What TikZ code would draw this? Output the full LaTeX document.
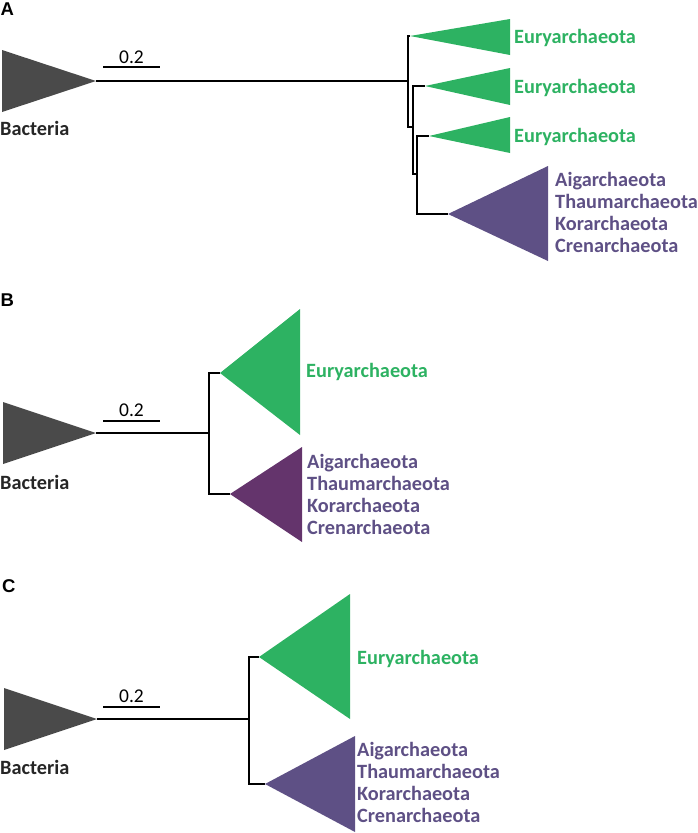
\documentclass[tikz,border=0pt]{standalone}
\usepackage{fontspec}
\setmainfont{Carlito}
\newfontfamily\panelfont{Liberation Sans}
\usepackage{tikz}
\definecolor{bactgray}{HTML}{4A4A4A}
\definecolor{eurygreen}{HTML}{2DB262}
\definecolor{crenpurple}{HTML}{5E5085}
\definecolor{crenplum}{HTML}{64346C}
\tikzstyle{branch}=[line width=1.5pt,draw=black]
\tikzstyle{bact}=[fill=bactgray]
\tikzstyle{eury}=[fill=eurygreen]
\tikzstyle{crena}=[fill=crenpurple]
\tikzstyle{crenb}=[fill=crenplum]
\tikzstyle{panel}=[anchor=base west,inner sep=0pt,
font=\panelfont\bfseries\fontsize{18.5}{22}\selectfont]
\tikzstyle{taxon}=[anchor=base west,inner sep=0pt,
font=\bfseries\fontsize{20.3}{24}\selectfont]
\tikzstyle{bacttext}=[taxon,text=black!85]
\tikzstyle{eurytext}=[taxon,text=eurygreen]
\tikzstyle{crentext}=[taxon,text=crenpurple]
\tikzstyle{scalelbl}=[anchor=base,inner sep=0pt,font=\fontsize{19.5}{22}\selectfont]

\begin{document}
\begin{tikzpicture}[x=1pt,y=-1pt]
            \useasboundingbox (0,0) rectangle (698,833);

            % A PART

            \node[panel] (pA) at (0.5,15) {A};
            \coordinate (bA) at (96,81);
            \coordinate (rA) at (408,81);
            \coordinate (nA1) at (413,127);
            \coordinate (nA2) at (417,174);
            \coordinate (eA1) at (410,36);
            \coordinate (eA2) at (425,86);
            \coordinate (eA3) at (429,136);
            \coordinate (cA) at (448,214);
            \coordinate (sA1) at (103,67);
            \coordinate (sA2) at (160,67);

            \fill[bact] (bA) -- ++(-94,-31) -- ++(0,62) -- cycle;
            \fill[eury] (eA1) -- ++(100,-17) -- ++(0,36) -- cycle;
            \fill[eury] (eA2) -- ++(85,-18) -- ++(0,37) -- cycle;
            \fill[eury] (eA3) -- ++(81,-19) -- ++(0,36) -- cycle;
            \fill[crena] (cA) -- ++(100,-48) -- ++(0,95) -- cycle;

            \draw[branch] (bA) -- (rA);
            \draw[branch] (rA) |- (eA1);
            \draw[branch] (rA) |- (nA1);
            \draw[branch] (nA1) |- (eA2);
            \draw[branch] (nA1) |- (nA2);
            \draw[branch] (nA2) |- (eA3);
            \draw[branch] (nA2) |- (cA);
            \draw[branch] (sA1) -- (sA2);

            \node[scalelbl] (lsA) at (131.5,63) {0.2};
            \node[bacttext] (lbA) at (0,135) {Bacteria};
            \node[eurytext] (leA1) at (514,43) {Euryarchaeota};
            \node[eurytext] (leA2) at (514,93) {Euryarchaeota};
            \node[eurytext] (leA3) at (514,142) {Euryarchaeota};
            \node[crentext] (lcA1) at (555,186) {Aigarchaeota};
            \node[crentext] (lcA2) at (555,208) {Thaumarchaeota};
            \node[crentext] (lcA3) at (555,230.5) {Korarchaeota};
            \node[crentext] (lcA4) at (555,252.5) {Crenarchaeota};


            % B PART

            \node[panel] (pB) at (0.5,306) {B};
            \coordinate (bB) at (96,433);
            \coordinate (rB) at (209,433);
            \coordinate (eB) at (220,373);
            \coordinate (cB) at (230,494);
            \coordinate (sB1) at (103,421);
            \coordinate (sB2) at (160,421);

            \fill[bact] (bB) -- ++(-93,-31) -- ++(0,62) -- cycle;
            \fill[eury] (eB) -- ++(80,-64) -- ++(0,126) -- cycle;
            \fill[crenb] (cB) -- ++(72,-47) -- ++(0,95) -- cycle;

            \draw[branch] (bB) -- (rB);
            \draw[branch] (rB) |- (eB);
            \draw[branch] (rB) |- (cB);
            \draw[branch] (sB1) -- (sB2);

            \node[scalelbl] (lsB) at (131.5,416) {0.2};
            \node[bacttext] (lbB) at (0,489.5) {Bacteria};
            \node[eurytext] (leB) at (306,377.5) {Euryarchaeota};
            \node[crentext] (lcB1) at (307,468) {Aigarchaeota};
            \node[crentext] (lcB2) at (307,490) {Thaumarchaeota};
            \node[crentext] (lcB3) at (307,512) {Korarchaeota};
            \node[crentext] (lcB4) at (307,534) {Crenarchaeota};


            % C PART

            \node[panel] (pC) at (2,592) {C};
            \coordinate (bC) at (97,719);
            \coordinate (rC) at (249,719);
            \coordinate (eC) at (259,657);
            \coordinate (cC) at (265,784);
            \coordinate (sC1) at (103,707);
            \coordinate (sC2) at (160,707);

            \fill[bact] (bC) -- ++(-93,-31) -- ++(0,62) -- cycle;
            \fill[eury] (eC) -- ++(91,-63) -- ++(0,125) -- cycle;
            \fill[crena] (cC) -- ++(90,-48) -- ++(0,96) -- cycle;

            \draw[branch] (bC) -- (rC);
            \draw[branch] (rC) |- (eC);
            \draw[branch] (rC) |- (cC);
            \draw[branch] (sC1) -- (sC2);

            \node[scalelbl] (lsC) at (131.5,702.5) {0.2};
            \node[bacttext] (lbC) at (0,774) {Bacteria};
            \node[eurytext] (leC) at (357,664) {Euryarchaeota};
            \node[crentext] (lcC1) at (357,756) {Aigarchaeota};
            \node[crentext] (lcC2) at (357,778) {Thaumarchaeota};
            \node[crentext] (lcC3) at (357,800) {Korarchaeota};
            \node[crentext] (lcC4) at (357,822) {Crenarchaeota};

\end{tikzpicture}
\end{document}
